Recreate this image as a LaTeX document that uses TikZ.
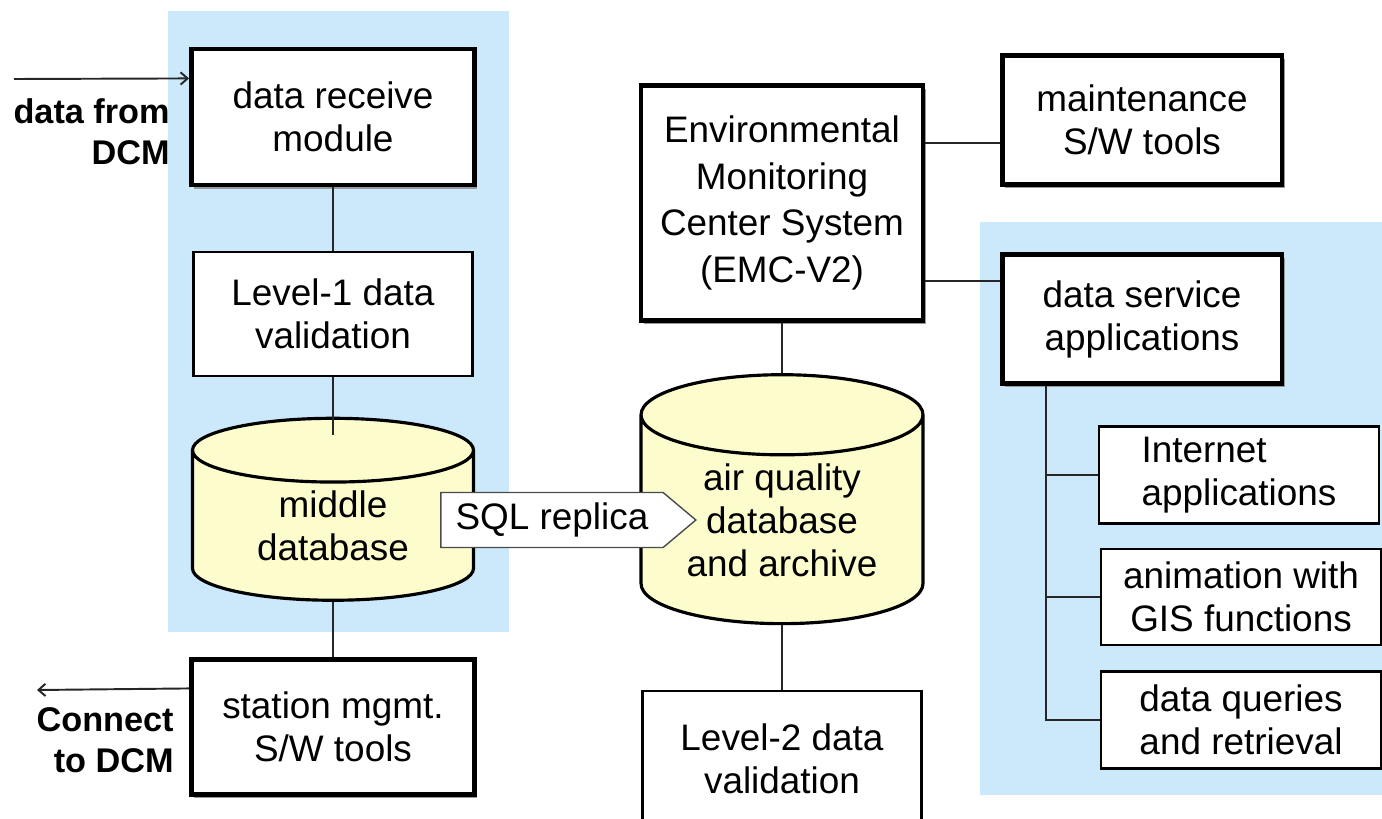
\documentclass[tikz,border=0pt]{standalone}
\usepackage{fontspec}
\setmainfont{Liberation Sans}
\usetikzlibrary{shapes.geometric,shapes.symbols,shadows,calc,arrows.meta}
\definecolor{panelblue}{RGB}{204,233,251}
\definecolor{dbyellow}{RGB}{252,252,204}
\tikzset{
  txt/.style={font=\fontsize{21}{24.5}\selectfont, align=center},
  thinbox/.style={txt, draw, line width=1.2pt, fill=white, inner sep=0pt},
  thickbox/.style={txt, draw, line width=2.8pt, fill=white, inner sep=0pt,
    drop shadow={shadow xshift=1.5pt, shadow yshift=-2pt, fill=gray!80, opacity=1}},
  db/.style={txt, cylinder, shape border rotate=90, aspect=0.42, draw,
    line width=1.8pt, fill=dbyellow, inner sep=0pt},
  link/.style={line width=1.1pt, black!85},
  barb/.style={link, -{Straight Barb[length=4pt,width=7pt]}},
  outlbl/.style={font=\fontsize{19.5}{23.5}\selectfont\bfseries, align=right, inner sep=0pt},
}
\begin{document}
\begin{tikzpicture}[x=0.02cm, y=-0.02cm]
  \useasboundingbox (0,0) rectangle (1382,818);
  \clip (0,0) rectangle (1382,818);
  % shaded groups
  \fill[panelblue] (168,11) rectangle (509,632);
  \fill[panelblue] (980,222) rectangle (1382,795);

  % left column
  \node[thickbox, minimum width=5.66cm, minimum height=2.72cm] (dr) at (333,117) {data receive\\module};
  \node[thinbox, minimum width=5.58cm, minimum height=2.48cm] (lv1) at (333,314) {Level-1 data\\validation};
  \node[db, minimum width=5.62cm, minimum height=3.64cm] (mdb) at (333,526) {middle\\database};
  \node[thickbox, minimum width=5.66cm, minimum height=2.7cm] (st) at (333,727) {station mgmt.\\S/W tools};

  % centre column
  \node[thickbox, minimum width=5.64cm, minimum height=4.7cm,
        font=\fontsize{21}{26.5}\selectfont] (emc) at (782,203)
        {Environmental\\Monitoring\\Center System\\(EMC-V2)};
  \node[db, minimum width=5.64cm, minimum height=4.98cm] (aq) at (782,520) {air quality\\database\\and archive};
  \node[thinbox, minimum width=5.58cm, minimum height=2.72cm] (lv2) at (782,759) {Level-2 data\\validation};

  % right column
  \node[thickbox, minimum width=5.6cm, minimum height=2.58cm] (mnt) at (1142,120) {maintenance\\S/W tools};
  \node[thickbox, minimum width=5.6cm, minimum height=2.58cm] (dsa) at (1142,319) {data service\\applications};
  \node[thinbox, minimum width=5.6cm, minimum height=1.94cm, align=left] (inet) at (1239,475) {Internet\\applications};
  \node[thinbox, minimum width=5.6cm, minimum height=1.92cm] (ani) at (1241,597) {animation with\\GIS functions};
  \node[thinbox, minimum width=5.6cm, minimum height=1.94cm] (qry) at (1241,720) {data queries\\and retrieval};

  \node[txt, signal, signal to=east, signal pointer angle=80, draw=black!70, line width=0.8pt,
        fill=white, minimum width=5.1cm, minimum height=1.1cm, inner sep=0pt] (sql) at (552,520) {SQL replica};

  % outside DCM
  \coordinate (din) at (14,79);
  \draw[barb] (din) -- (dr.165);
  \node[outlbl, anchor=east] (dinlbl) at (170,132) {data from\\DCM};
  \coordinate (dout) at (37,690);
  \draw[barb] (st.165) -- (dout);
  \node[outlbl, anchor=east] (doutlbl) at (174,740) {Connect\\to DCM};

  % links
  \draw[link] (dr.south) -- (lv1.north);
  \draw[link] (lv1.south) -- ($(mdb.north)+(0,18)$);
  \draw[link] (mdb.south) -- (st.north);
  \draw[link] (emc.south) -- (aq.north);
  \draw[link] (aq.south) -- (lv2.north);
  \draw[link] (emc.east |- mnt.189) -- (mnt.189);
  \draw[link] (emc.east |- dsa.165) -- (dsa.165);
  \draw[link] (dsa.south west) ++(46,0) coordinate (tr) |- (qry.west);
  \draw[link] (tr |- inet.west) -- (inet.west);
  \draw[link] (tr |- ani.west) -- (ani.west);
\end{tikzpicture}
\end{document}
